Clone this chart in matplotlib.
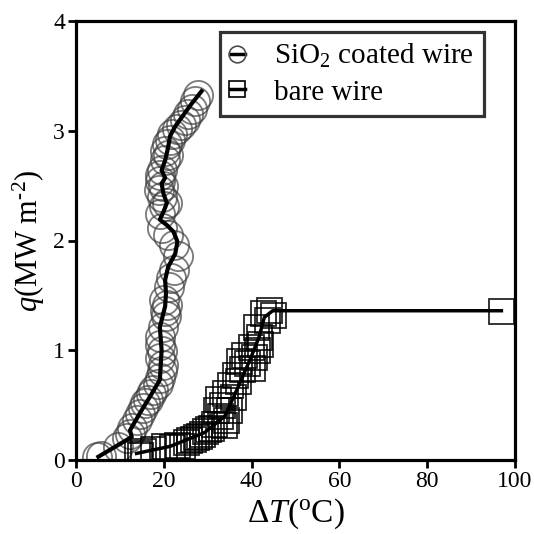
import matplotlib
matplotlib.use("Agg")
import matplotlib.pyplot as plt
from matplotlib.lines import Line2D

plt.rcParams['font.family'] = ['Liberation Serif', 'DejaVu Serif']
plt.rcParams['mathtext.fontset'] = 'custom'
plt.rcParams['mathtext.rm'] = 'Liberation Serif'
plt.rcParams['mathtext.it'] = 'Liberation Serif:italic'

# SiO2 coated wire: measured points
coated_x = [4.8, 5.6, 9.6, 11.6, 12.3, 12.8, 13.8, 14.6, 15.2, 15.7, 16.5, 17.0, 17.6, 18.6,
            19.1, 19.5, 19.8, 19.1, 19.5, 19.2, 19.1, 19.9, 20.5, 20.8, 20.3, 20.0, 21.1,
            21.6, 22.3, 23.3, 22.4, 21.0, 19.6, 19.1, 20.1, 20.7, 19.5, 18.8, 19.2, 19.9,
            19.1, 19.6, 20.3, 21.0, 20.3, 20.7, 21.4, 21.9, 23.0, 24.0, 24.8, 25.6, 26.4,
            27.1, 27.8]
coated_y = [0.03, 0.04, 0.12, 0.20, 0.24, 0.29, 0.36, 0.42, 0.47, 0.52, 0.55, 0.60, 0.64, 0.69,
            0.75, 0.81, 0.87, 0.93, 0.99, 1.05, 1.12, 1.21, 1.31, 1.41, 1.36, 1.46, 1.58,
            1.66, 1.73, 1.86, 1.96, 2.05, 2.11, 2.24, 2.31, 2.34, 2.40, 2.46, 2.54, 2.50,
            2.60, 2.64, 2.73, 2.78, 2.82, 2.88, 2.92, 2.97, 3.02, 3.05, 3.10, 3.15, 3.20,
            3.27, 3.33]
# SiO2 coated wire: fitted curve
coated_fit_x = [5.1, 12.7, 12.3, 14.6, 16.9, 19.1, 19.5, 19.1, 20.3, 20.5, 20.3, 21.0, 22.6,
                23.1, 22.2, 20.7, 19.1, 19.9, 20.7, 19.9, 19.5, 20.3, 19.5, 20.3, 21.0, 21.4,
                22.6, 24.4, 26.4, 28.6]
coated_fit_y = [0.03, 0.21, 0.27, 0.43, 0.58, 0.73, 1.00, 1.21, 1.40, 1.52, 1.64, 1.76, 1.88,
                1.99, 2.08, 2.14, 2.19, 2.26, 2.34, 2.43, 2.52, 2.57, 2.64, 2.73, 2.85, 2.95,
                3.04, 3.14, 3.25, 3.36]

# bare wire: measured points
bare_x = [13.8, 14.6, 15.3, 17.5, 20.0, 21.8, 23.1, 24.2, 25.0, 25.8, 26.6, 27.4, 28.1, 28.8,
          29.3, 30.1, 30.8, 31.5, 32.0, 32.4, 33.6, 33.2, 32.7, 34.2, 34.0, 34.8, 35.1,
          35.8, 36.3, 36.9, 37.1, 37.7, 38.2, 38.9, 39.8, 40.2, 40.6, 41.3, 41.7, 40.9,
          41.9, 42.5, 43.4, 44.0, 44.8, 96.7]
bare_y = [0.06, 0.05, 0.08, 0.10, 0.13, 0.12, 0.14, 0.13, 0.16, 0.18, 0.19, 0.21, 0.22, 0.24,
          0.26, 0.28, 0.29, 0.33, 0.46, 0.56, 0.32, 0.50, 0.40, 0.36, 0.61, 0.46, 0.68,
          0.57, 0.77, 0.72, 0.90, 0.83, 0.96, 0.88, 1.03, 0.84, 0.94, 1.00, 1.12, 1.21,
          1.06, 1.34, 1.28, 1.37, 1.32, 1.36]
# bare wire: fitted curve
bare_fit_x = [13.8, 21.5, 29.3, 33.9, 37.1, 39.8, 41.7, 42.9, 44.8, 96.9]
bare_fit_y = [0.06, 0.125, 0.25, 0.40, 0.68, 0.93, 1.12, 1.30, 1.36, 1.36]

x_ticks = [0, 20, 40, 60, 80, 100]
y_ticks = [0, 1, 2, 3, 4]

fig = plt.figure(figsize=(5.34, 5.34), dpi=100)
ax = fig.add_axes([76/534, (534-460)/534, 439/534, 439/534])

ax.plot(coated_x, coated_y, linestyle='none', marker='o', markersize=21,
        markerfacecolor='none', markeredgecolor=(0.25, 0.25, 0.25, 0.7), markeredgewidth=1.3)
ax.plot(coated_fit_x, coated_fit_y, color='black', lw=3)
ax.plot(bare_x, bare_y, linestyle='none', marker='s', markersize=18,
        markerfacecolor='none', markeredgecolor=(0, 0, 0, 0.85), markeredgewidth=1.3)
ax.plot(bare_fit_x, bare_fit_y, color='black', lw=2.5)

ax.set_xlim(0, 100)
ax.set_ylim(0, 4)
ax.set_xticks(x_ticks)
ax.set_yticks(y_ticks)
ax.tick_params(direction='out', length=6, width=2, labelsize=17, pad=2)
for s in ax.spines.values():
    s.set_linewidth(2.3)

ax.set_xlabel(r'$\Delta T$($^{\rm o}$C)', fontsize=24, labelpad=3)
ax.set_ylabel('$q$(MW m$^{\\rm \u2010 2}$)', fontsize=22, labelpad=4)

h1 = Line2D([], [], color='black', lw=2.5, marker='o', markersize=12,
            markerfacecolor='none', markeredgecolor=(0.3, 0.3, 0.3), markeredgewidth=1.2)
h2 = Line2D([], [], color='black', lw=2.5, marker='s', markersize=12,
            markerfacecolor='none', markeredgecolor='black', markeredgewidth=1.2)
leg = ax.legend([h1, h2], ['SiO$_2$ coated wire', 'bare wire'], loc='upper right',
                bbox_to_anchor=(0.929, 0.975), borderaxespad=0, fontsize=21,
                frameon=True, fancybox=False, handlelength=0.5, handletextpad=1.0,
                borderpad=0.35, labelspacing=0.3)
leg.get_frame().set_edgecolor('black')
leg.get_frame().set_linewidth(2.3)

fig.savefig('out.png', dpi=100)
